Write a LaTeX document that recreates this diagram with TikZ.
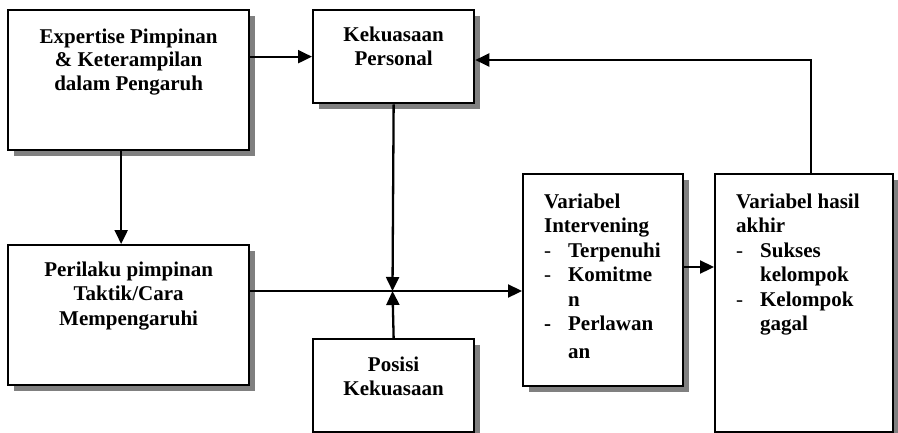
\documentclass[tikz,border=0pt]{standalone}
\usepackage{fontspec}
\setmainfont{Liberation Serif}
\usetikzlibrary{arrows.meta,shadows,calc}
\newcommand{\itm}[1]{\makebox[24pt][l]{\mdseries -}#1}
\newcommand{\itmb}[1]{\makebox[24pt][l]{-}#1}
\newcommand{\cont}[1]{\hspace*{24pt}#1}
\begin{document}
\begin{tikzpicture}[x=1pt,y=-1pt,
  box/.style={draw, line width=2.3pt, fill=white, inner sep=0pt, anchor=north west,
    drop shadow={shadow xshift=5.5pt, shadow yshift=-5.5pt, fill=gray, opacity=1}},
  con/.style={line width=2.3pt},
  arr/.style={con, -{Triangle[length=14pt,width=13pt]}}]
\useasboundingbox (0,0) rectangle (898,432);

\node[box] (exp) at (7,9) {\parbox[t][140pt][t]{241pt}{\centering\fontsize{21}{23.5}\selectfont\bfseries\rule{0pt}{33pt}Expertise Pimpinan\\ \& Keterampilan\\ dalam Pengaruh}};
\node[box] (kp) at (312,9) {\parbox[t][93pt][t]{161pt}{\centering\fontsize{21}{24.5}\selectfont\bfseries\rule{0pt}{31pt}Kekuasaan\\ Personal}};
\node[box] (per) at (7,244) {\parbox[t][140pt][t]{241pt}{\centering\fontsize{21}{24.5}\selectfont\bfseries\rule{0pt}{31pt}Perilaku pimpinan\\ Taktik/Cara\\ Mempengaruhi}};
\node[box] (pos) at (312,338) {\parbox[t][93pt][t]{161pt}{\centering\fontsize{21}{24.5}\selectfont\bfseries\rule{0pt}{32pt}Posisi\\ Kekuasaan}};
\node[box] (vi) at (522,173) {\parbox[t][212pt][t]{160pt}{\raggedright\leftskip=21pt\fontsize{21}{24.5}\selectfont\bfseries\rule{0pt}{34pt}Variabel\\ Intervening\\ \itm{Terpenuhi}\\ \itm{Komitme}\\ \cont{n}\\ \itmb{Perlawan}\\[3pt] \cont{an}}};
\node[box] (vh) at (714,173) {\parbox[t][258pt][t]{178pt}{\raggedright\leftskip=21pt\fontsize{21}{24.5}\selectfont\bfseries\rule{0pt}{34pt}Variabel hasil\\ akhir\\ \itm{Sukses}\\ \cont{kelompok}\\ \itm{Kelompok}\\ \cont{gagal}}};

\coordinate (J) at (392.5,291);
\coordinate (m) at (700,267);
\coordinate (t) at (811,60);

\draw[arr] (exp.east |- kp.west) -- (kp.west);
\draw[arr] ([xshift=-7.5pt]exp.south) -- ([xshift=-7.5pt]per.north);
\draw[arr] (kp.south) -- (J);
\draw[arr] (pos.north) -- (J);
\draw[con] (per.east |- J) -- (J);
\draw[arr] (J) -- (vi.west |- J);
\draw[arr] (vi.east |- m) -- (vh.west |- m);
\draw[arr] (vh.north -| t) -- (t) -- (kp.east |- t);
\end{tikzpicture}
\end{document}
